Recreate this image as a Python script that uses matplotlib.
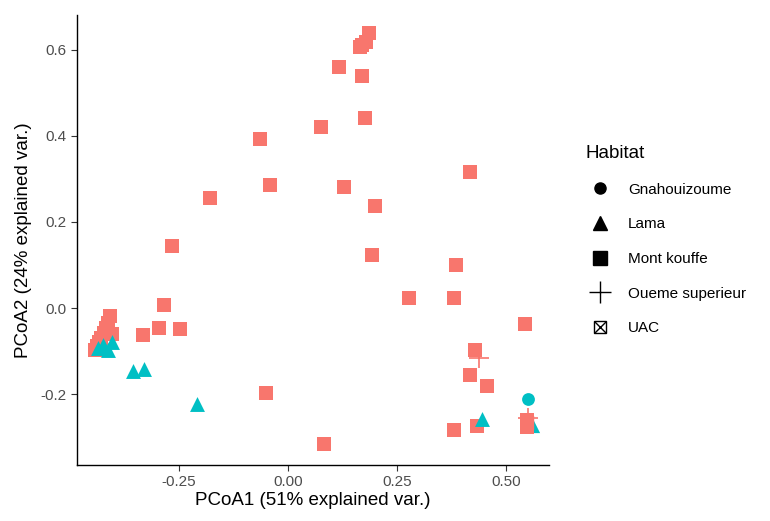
import numpy as np
import matplotlib.pyplot as plt
from matplotlib.lines import Line2D
from matplotlib.legend_handler import HandlerTuple

plt.rcParams['font.family'] = ['Liberation Sans', 'DejaVu Sans']

salmon = '#F8766D'
teal = '#00BFC4'

# Mont kouffe (squares)
mk_x = [0.186, 0.179, 0.165, 0.170, 0.117, 0.170, 0.177, 0.076, -0.064, -0.041,
        0.128, 0.200, -0.179, 0.417, -0.266, 0.193, 0.385, 0.278, 0.381, -0.284,
        0.544, -0.296, -0.248, -0.333, 0.429, 0.417, 0.456, -0.050, 0.083, 0.381,
        0.433, 0.548, 0.548,
        -0.408, -0.413, -0.417, -0.422, -0.429, -0.433, -0.438, -0.443, -0.404]
mk_y = [0.640, 0.619, 0.607, 0.612, 0.560, 0.540, 0.442, 0.421, 0.393, 0.286,
        0.281, 0.237, 0.256, 0.316, 0.144, 0.123, 0.100, 0.023, 0.023, 0.007,
        -0.037, -0.047, -0.049, -0.063, -0.098, -0.156, -0.181, -0.198, -0.316, -0.284,
        -0.274, -0.260, -0.277,
        -0.019, -0.035, -0.047, -0.058, -0.070, -0.079, -0.088, -0.098, -0.060]

# Lama (triangles)
lama_x = np.array([-0.436, -0.424, -0.413, -0.404, -0.356, -0.330, -0.209, 0.445, 0.560])
lama_y = np.array([-0.093, -0.086, -0.098, -0.079, -0.147, -0.142, -0.223, -0.258, -0.272])

# Gnahouizoume (circle)
gn_x = [0.550]
gn_y = [-0.212]

# Oueme superieur (plus)
os_x = [0.438, 0.550]
os_y = [-0.116, -0.256]

# UAC (hidden behind squares)
uac_x = [0.548]
uac_y = [-0.266]

habitats = ['Gnahouizoume', 'Lama', 'Mont kouffe', 'Oueme superieur', 'UAC']

fig = plt.figure(figsize=(7.7, 5.21), dpi=100)
ax = fig.add_axes([0.1, 0.1075, 0.613, 0.8635])

hidden = lama_x > 0.5
ax.scatter(lama_x[hidden], lama_y[hidden], marker='^', s=120, c=teal, linewidths=0, zorder=1)
ax.scatter(uac_x, uac_y, marker='s', s=80, facecolors='none', edgecolors=salmon, linewidths=1, zorder=1)
ax.scatter(uac_x, uac_y, marker='x', s=80, c=salmon, linewidths=1, zorder=1)
ax.scatter(mk_x, mk_y, marker='s', s=105, c=salmon, linewidths=0, zorder=2)
ax.scatter(lama_x[~hidden], lama_y[~hidden], marker='^', s=115, c=teal, linewidths=0, zorder=3)
ax.scatter(gn_x, gn_y, marker='o', s=85, c=teal, linewidths=0, zorder=3)
ax.scatter(os_x, os_y, marker='+', s=200, c=salmon, linewidths=1.2, zorder=4)

ax.set_xlim(-0.484, 0.599)
ax.set_ylim(-0.365, 0.681)
ax.set_xticks([-0.25, 0.0, 0.25, 0.5])
ax.set_xticklabels(['-0.25', '0.00', '0.25', '0.50'])
ax.set_yticks([-0.2, 0.0, 0.2, 0.4, 0.6])
ax.set_yticklabels(['-0.2', '0.0', '0.2', '0.4', '0.6'])

for s in ['top', 'right']:
    ax.spines[s].set_visible(False)
for s in ['left', 'bottom']:
    ax.spines[s].set_linewidth(1.0)
    ax.spines[s].set_color('black')
ax.tick_params(colors='#333333', labelcolor='#4D4D4D', labelsize=11, length=4, width=0.8)

ax.set_xlabel('PCoA1 (51% explained var.)', fontsize=13.5, labelpad=2)
ax.set_ylabel('PCoA2 (24% explained var.)', fontsize=13.5, labelpad=6)

handles = [
    Line2D([], [], marker='o', linestyle='', color='black', markersize=8),
    Line2D([], [], marker='^', linestyle='', color='black', markersize=10),
    Line2D([], [], marker='s', linestyle='', color='black', markersize=9.5),
    Line2D([], [], marker='+', linestyle='', color='black', markersize=16, markeredgewidth=1.0),
    (Line2D([], [], marker='s', linestyle='', markerfacecolor='none', markeredgecolor='black',
            markersize=9, markeredgewidth=1.0),
     Line2D([], [], marker='x', linestyle='', color='black', markersize=9, markeredgewidth=1.0)),
]

fig.legend(handles, habitats, title='Habitat', loc='upper left',
           bbox_to_anchor=(0.752, 0.733), frameon=False, fontsize=11,
           title_fontsize=13.5, handletextpad=0.8, labelspacing=1.35,
           alignment='left', borderaxespad=0,
           handler_map={tuple: HandlerTuple(ndivide=1, pad=0)})

fig.savefig('out.png', dpi=100)
